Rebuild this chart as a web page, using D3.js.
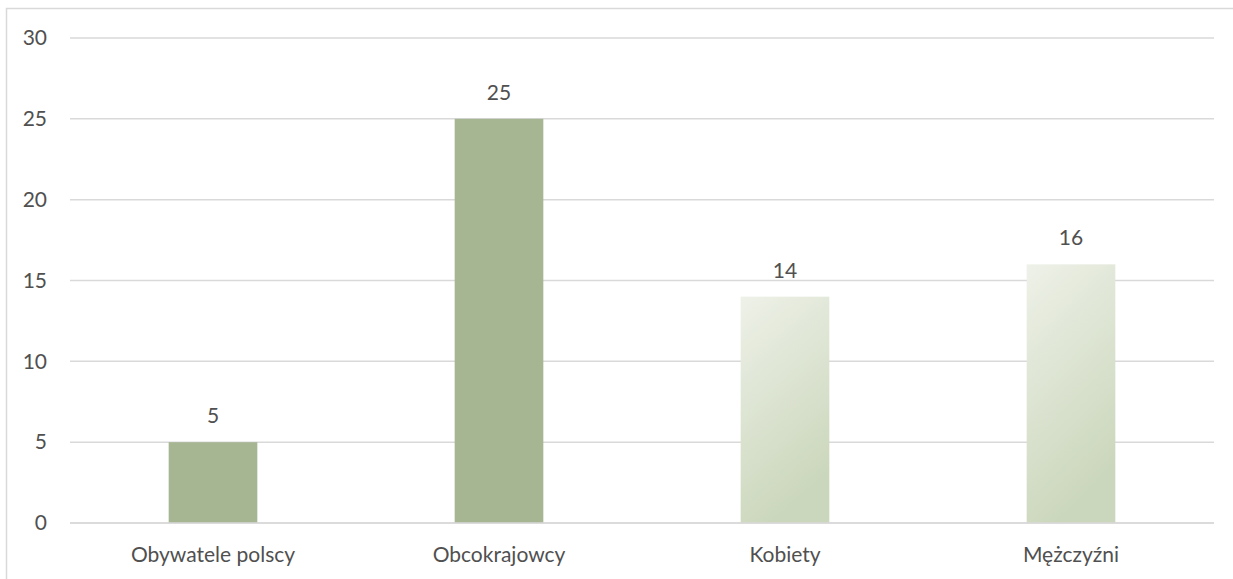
<!DOCTYPE html>
<html>
<head>
<meta charset="utf-8">
<script src="https://cdn.jsdelivr.net/npm/d3@7"></script>
<style>
  html, body { margin: 0; padding: 0; background: #fff; }
  svg { display: block; }
  text { font-family: Lato, "Noto Sans", sans-serif; fill: #505050; }
</style>
</head>
<body>
<svg id="chart" width="1233" height="579"></svg>
<script>
const categories = ["Obywatele polscy", "Obcokrajowcy", "Kobiety", "Mężczyźni"];
const values = [5, 25, 14, 16];
const yTicks = [0, 5, 10, 15, 20, 25, 30];
const fillKinds = ["solid", "solid", "gradient", "gradient"];

const svg = d3.select("#chart");
const W = 1233, H = 579;
const plot = { left: 70, right: 1214, top: 38, bottom: 523 };
const FS = 21;
const FF = "Lato, 'Noto Sans', sans-serif";
const TC = "#505050";

const defs = svg.append("defs");
const grad = defs.append("linearGradient").attr("id", "lightGreen")
  .attr("x1", "0%").attr("y1", "0%").attr("x2", "35%").attr("y2", "100%");
grad.append("stop").attr("offset", "0%").attr("stop-color", "#EEF1E8");
grad.append("stop").attr("offset", "100%").attr("stop-color", "#CBD7BC");

svg.append("rect").attr("x", 6.5).attr("y", 8.5).attr("width", W + 10).attr("height", H + 10)
  .attr("fill", "none").attr("stroke", "#D9D9D9").attr("stroke-width", 1.5);

const x = d3.scaleBand().domain(categories).range([plot.left, plot.right])
  .paddingInner(0.69).paddingOuter(0.345);
const y = d3.scaleLinear().domain([0, 30]).range([plot.bottom, plot.top]);

svg.append("g").selectAll("line").data(yTicks).join("line")
  .attr("x1", plot.left).attr("x2", plot.right)
  .attr("y1", d => y(d)).attr("y2", d => y(d))
  .attr("stroke", "#D9D9D9").attr("stroke-width", 1.5);

const yAxis = d3.axisLeft(y).tickValues(yTicks).tickSize(0).tickPadding(0);
const ya = svg.append("g").attr("transform", "translate(47,0)").call(yAxis);
ya.select(".domain").remove();
ya.selectAll("text").attr("font-size", FS).attr("fill", TC).style("font-family", FF);

svg.append("g").selectAll("rect").data(categories).join("rect")
  .attr("x", d => x(d)).attr("width", x.bandwidth())
  .attr("y", (d, i) => y(values[i]))
  .attr("height", (d, i) => y(0) - y(values[i]))
  .attr("fill", (d, i) => fillKinds[i] === "solid" ? "#A6B592" : "url(#lightGreen)");

svg.append("line").attr("x1", plot.left).attr("x2", plot.right)
  .attr("y1", y(0)).attr("y2", y(0)).attr("stroke", "#D9D9D9").attr("stroke-width", 1.5);

svg.append("g").selectAll("text").data(categories).join("text")
  .attr("x", d => x(d) + x.bandwidth() / 2)
  .attr("y", (d, i) => y(values[i]) - 19)
  .attr("text-anchor", "middle").attr("font-size", FS).attr("fill", TC)
  .text((d, i) => values[i]);

const xAxis = d3.axisBottom(x).tickSize(0).tickPadding(0);
const xa = svg.append("g").attr("transform", `translate(0,${plot.bottom + 24})`).call(xAxis);
xa.select(".domain").remove();
xa.selectAll("text").attr("font-size", FS).attr("fill", TC).style("font-family", FF);
</script>
</body>
</html>
